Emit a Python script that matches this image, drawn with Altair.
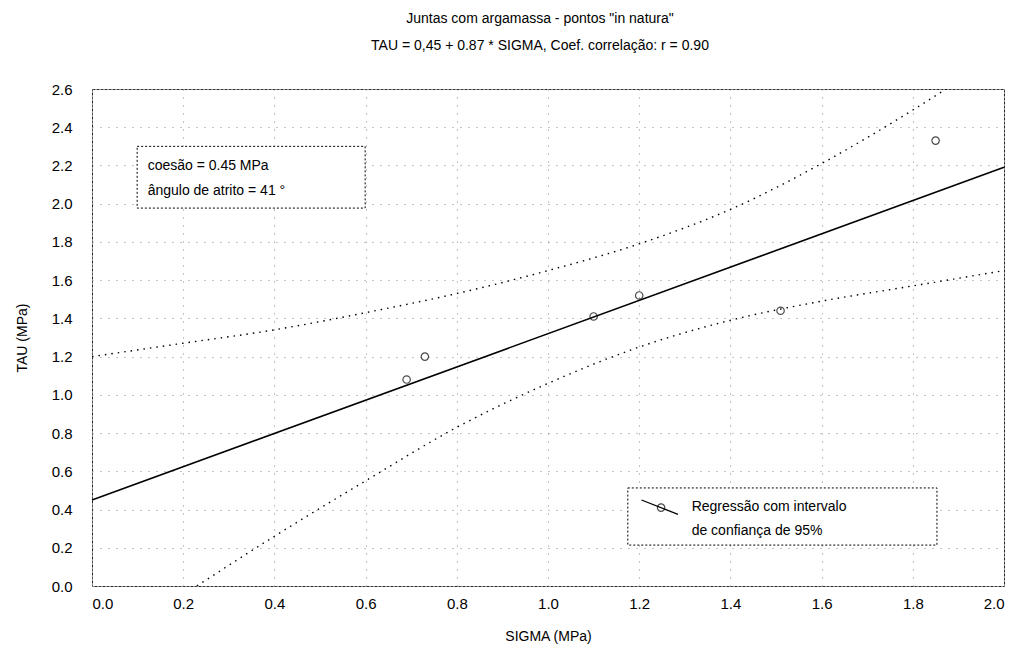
import altair as alt
import pandas as pd

# ---- data ----
sigma = [0.69, 0.73, 1.10, 1.20, 1.51, 1.85]
tau = [1.08, 1.20, 1.41, 1.52, 1.44, 2.33]

fit_x = [0.0, 2.0]
fit_y = [0.45, 2.19]

band_x = [0.0, 0.2, 0.4, 0.6, 0.8, 1.0, 1.2, 1.4, 1.6, 1.8, 2.0]
band_upper = [1.20, 1.27, 1.34, 1.43, 1.53, 1.65, 1.79, 1.97, 2.21, 2.49, 2.80]
lower_x = [0.23, 0.4, 0.6, 0.8, 1.0, 1.2, 1.4, 1.6, 1.8, 2.0]
band_lower = [0.0, 0.26, 0.55, 0.83, 1.06, 1.25, 1.39, 1.49, 1.57, 1.65]

x_ticks = [0.0, 0.2, 0.4, 0.6, 0.8, 1.0, 1.2, 1.4, 1.6, 1.8, 2.0]
y_ticks = [0.0, 0.2, 0.4, 0.6, 0.8, 1.0, 1.2, 1.4, 1.6, 1.8, 2.0, 2.2, 2.4, 2.6]

title_lines = ["Juntas com argamassa - pontos \"in natura\"",
               "TAU = 0,45 + 0.87 * SIGMA, Coef. correlação: r = 0.90"]
box_lines = ["coesão = 0.45 MPa", "ângulo de atrito = 41 °"]
legend_lines = ["Regressão com intervalo", "de confiança de 95%"]

FONT = "Liberation Sans"

xs = alt.Scale(domain=[0, 2.0], nice=False)
ys = alt.Scale(domain=[0, 2.6], nice=False)

X = lambda f: alt.X(f, type="quantitative", scale=xs,
                    axis=alt.Axis(values=x_ticks, format=".1f", title="SIGMA (MPa)"))
Y = lambda f: alt.Y(f, type="quantitative", scale=ys,
                    axis=alt.Axis(values=y_ticks, format=".1f", title="TAU (MPa)"))

pts = pd.DataFrame({"sigma": sigma, "tau": tau})
fit = pd.DataFrame({"sigma": fit_x, "tau": fit_y})
up = pd.DataFrame({"sigma": band_x, "tau": band_upper})
lo = pd.DataFrame({"sigma": lower_x, "tau": band_lower})

fit_line = alt.Chart(fit).mark_line(color="black", strokeWidth=1.6).encode(
    x=X("sigma"), y=Y("tau"))
up_line = alt.Chart(up).mark_line(color="black", strokeWidth=1.4, strokeDash=[1.5, 5],
                                  clip=True, interpolate="monotone").encode(
    x=X("sigma"), y=Y("tau"))
lo_line = alt.Chart(lo).mark_line(color="black", strokeWidth=1.4, strokeDash=[1.5, 5],
                                  clip=True, interpolate="monotone").encode(
    x=X("sigma"), y=Y("tau"))
points = alt.Chart(pts).mark_point(shape="circle", filled=False, color="black",
                                   size=55, strokeWidth=1.2).encode(
    x=X("sigma"), y=Y("tau"))

# annotation box (upper left)
box = alt.Chart(pd.DataFrame({"x0": [0.099], "x1": [0.599], "y0": [1.977], "y1": [2.30]})).mark_rect(
    fill="white", stroke="black", strokeWidth=1, strokeDash=[2, 2]).encode(
    x=X("x0"), x2="x1", y=Y("y0"), y2="y1")
box_text = alt.Chart(pd.DataFrame({"x": [0.122, 0.122], "y": [2.197, 2.068], "t": box_lines})).mark_text(
    align="left", baseline="middle", font=FONT, fontSize=14, color="black").encode(
    x=X("x"), y=Y("y"), text="t:N")

# legend box (lower right)
leg = alt.Chart(pd.DataFrame({"x0": [1.175], "x1": [1.853], "y0": [0.214], "y1": [0.513]})).mark_rect(
    fill="white", stroke="black", strokeWidth=1, strokeDash=[2, 2]).encode(
    x=X("x0"), x2="x1", y=Y("y0"), y2="y1")
leg_line = alt.Chart(pd.DataFrame({"x": [1.205, 1.285], "y": [0.45, 0.375]})).mark_line(
    color="black", strokeWidth=1.3).encode(x=X("x"), y=Y("y"))
leg_pt = alt.Chart(pd.DataFrame({"x": [1.248], "y": [0.41]})).mark_point(
    shape="circle", filled=False, color="black", size=55, strokeWidth=1.2).encode(
    x=X("x"), y=Y("y"))
leg_text = alt.Chart(pd.DataFrame({"x": [1.315, 1.315], "y": [0.415, 0.29], "t": legend_lines})).mark_text(
    align="left", baseline="middle", font=FONT, fontSize=14, color="black").encode(
    x=X("x"), y=Y("y"), text="t:N")

chart = alt.layer(up_line, lo_line, fit_line, points, box, box_text,
                  leg, leg_line, leg_pt, leg_text).properties(
    width=912, height=497,
    autosize=alt.AutoSizeParams(type="none"),
    padding={"left": 84, "top": 81, "right": 16, "bottom": 62},
    title=alt.TitleParams(text=title_lines, anchor="middle", font=FONT, fontSize=14,
                          fontWeight="normal", lineHeight=27, offset=29, dx=-8, color="black"),
).configure_view(
    stroke="#222", strokeWidth=1, strokeDash=[3, 1]
).configure_axis(
    grid=True, gridColor="#888", gridDash=[1, 7], gridWidth=1,
    domain=False, ticks=False,
    labelFont=FONT, labelFontSize=15, labelColor="black",
    titleFont=FONT, titleFontSize=14, titleFontWeight="normal", titleColor="black",
).configure_axisX(
    labelPadding=10, titlePadding=18,
).configure_axisY(
    labelPadding=20, titlePadding=22,
)

chart.save("out.html", embed_options={"renderer": "svg", "actions": False})
